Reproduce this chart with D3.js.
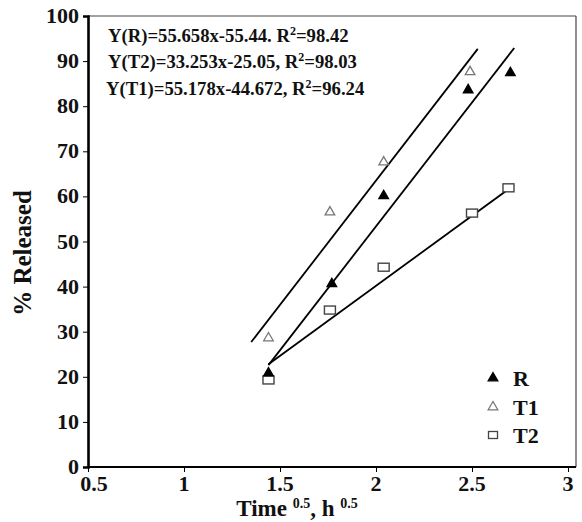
<!DOCTYPE html>
<html>
<head>
<meta charset="utf-8">
<script src="https://cdn.jsdelivr.net/npm/d3@7"></script>
<style>
  body { margin: 0; background: #fff; }
  text { font-family: "Liberation Serif", "Times New Roman", serif; font-weight: bold; fill: #111; }
</style>
</head>
<body>
<svg id="chart" width="582" height="522"></svg>
<script>
// values
let seriesNames = ["R", "T1", "T2"]
let rX  = [1.44, 1.77, 2.04, 2.48, 2.70]
let rY  = [20.8, 40.6, 60.1, 83.6, 87.4]
let t1X = [1.44, 1.76, 2.04, 2.49]
let t1Y = [28.6, 56.5, 67.6, 87.6]
let t2X = [1.44, 1.76, 2.04, 2.50, 2.69]
let t2Y = [19.3, 34.8, 44.3, 56.3, 61.9]

// fitted lines, start and end points (x, y)
let fitR  = [[1.44, 22.6], [2.72, 92.9]]
let fitT1 = [[1.35, 27.7], [2.53, 92.7]]
let fitT2 = [[1.44, 22.8], [2.70, 61.9]]

let xTicks = [0.5, 1, 1.5, 2, 2.5, 3]
let yTicks = [0, 10, 20, 30, 40, 50, 60, 70, 80, 90, 100]
let equations = [
  ["Y(R)=55.658x-55.44. R", "=98.42"],
  ["Y(T2)=33.253x-25.05, R", "=98.03"],
  ["Y(T1)=55.178x-44.672, R", "=96.24"]
]

let svg = d3.select("#chart")

let x = d3.scaleLinear().domain([0.5, 3]).range([88, 568])
let y = d3.scaleLinear().domain([0, 100]).range([467, 16])

// frame top / right
svg.append("line").attr("x1", x(0.5)).attr("x2", 576).attr("y1", y(100)).attr("y2", y(100))
  .attr("stroke", "#444").attr("stroke-width", 1.2)
svg.append("line").attr("x1", 576).attr("x2", 576).attr("y1", y(100)).attr("y2", y(0))
  .attr("stroke", "#444").attr("stroke-width", 1.2)

// axes
let xAxis = svg.append("g").attr("transform", "translate(0," + y(0) + ")")
  .call(d3.axisBottom(x).tickValues(xTicks).tickSize(5).tickFormat(""))
xAxis.select(".domain").attr("stroke", "#000").attr("stroke-width", 2.2)
  .attr("d", "M" + x(0.5) + ",0H576")

let yAxis = svg.append("g").attr("transform", "translate(" + x(0.5) + ",0)")
  .call(d3.axisLeft(y).tickValues(yTicks).tickSize(5).tickFormat(""))
yAxis.select(".domain").attr("stroke", "#000").attr("stroke-width", 2.6)

svg.selectAll(".xlab").data(xTicks).enter().append("text")
  .attr("x", d => x(d) + (d === 0.5 ? 6 : 0))
  .attr("y", 491)
  .attr("text-anchor", "middle")
  .style("font-size", "22px")
  .text(d => d)

svg.selectAll(".ylab").data(yTicks).enter().append("text")
  .attr("x", 79)
  .attr("y", d => y(d) + 7)
  .attr("text-anchor", "end")
  .style("font-size", "22px")
  .text(d => d)

// axis titles
svg.append("text")
  .attr("transform", "translate(31,253) rotate(-90)")
  .attr("text-anchor", "middle")
  .style("font-size", "25px")
  .text("% Released")

let xt = svg.append("text").attr("x", 297).attr("y", 516).attr("text-anchor", "middle")
  .style("font-size", "23px")
xt.append("tspan").text("Time ")
xt.append("tspan").attr("dy", -8).style("font-size", "14px").text("0.5")
xt.append("tspan").attr("dy", 8).text(", h ")
xt.append("tspan").attr("dy", -8).style("font-size", "14px").text("0.5")

// equations
equations.forEach(function(e, i) {
  let t = svg.append("text").attr("x", i === 2 ? 106 : 108).attr("y", [42, 68, 95][i])
    .style("font-size", "18.7px")
  t.append("tspan").text(e[0])
  t.append("tspan").attr("dy", -7).style("font-size", "12px").text("2")
  t.append("tspan").attr("dy", 7).text(e[1])
})

// fit lines
let line = d3.line().x(d => x(d[0])).y(d => y(d[1]))
;[fitR, fitT1, fitT2].forEach(function(f) {
  svg.append("path").attr("d", line(f)).attr("fill", "none")
    .attr("stroke", "#000").attr("stroke-width", 1.8)
})

let tri = d3.symbol().type(d3.symbolTriangle).size(40)

function drawTri(xs, ys, filled) {
  svg.selectAll(null).data(xs).enter().append("path")
    .attr("d", tri)
    .attr("transform", (d, i) => "translate(" + x(d) + "," + y(ys[i]) + ")")
    .attr("fill", filled ? "#000" : "#fff")
    .attr("stroke", filled ? "#000" : "#777")
    .attr("stroke-width", 1.3)
}

// squares
svg.selectAll(null).data(t2X).enter().append("rect")
  .attr("x", d => x(d) - 5.5)
  .attr("y", (d, i) => y(t2Y[i]) - 4)
  .attr("width", 11).attr("height", 8)
  .attr("fill", "#fff").attr("stroke", "#444").attr("stroke-width", 1.4)

drawTri(t1X, t1Y, false)
drawTri(rX, rY, true)

// legend
let legY = [378, 407, 435]
seriesNames.forEach(function(name, i) {
  let g = svg.append("g").attr("transform", "translate(493," + legY[i] + ")")
  if (i === 2) {
    g.append("rect").attr("x", -4.5).attr("y", -3.5).attr("width", 9).attr("height", 7)
      .attr("fill", "#fff").attr("stroke", "#444").attr("stroke-width", 1.3)
  } else {
    g.append("path").attr("d", tri)
      .attr("fill", i === 0 ? "#000" : "#fff")
      .attr("stroke", i === 0 ? "#000" : "#777").attr("stroke-width", 1.3)
  }
  g.append("text").attr("x", 20).attr("y", 8).style("font-size", "22px").text(name)
})
</script>
</body>
</html>
